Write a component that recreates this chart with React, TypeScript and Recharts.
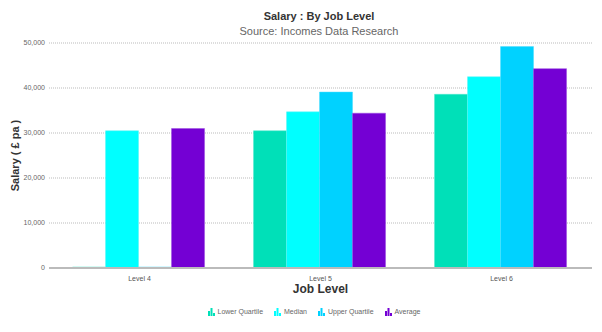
import { Bar, BarChart, CartesianGrid, Legend, XAxis, YAxis } from "recharts";

const levels = ["Level 4", "Level 5", "Level 6"];
const lowerQuartile = [0, 30500, 38600];
const median = [30500, 34700, 42500];
const upperQuartile = [0, 39100, 49200];
const average = [31000, 34400, 44300];
const yTicks = [0, 10000, 20000, 30000, 40000, 50000];

const seriesList = [
  { key: "lower", name: "Lower Quartile", color: "#00e0b8", stroke: "#4de9cc" },
  { key: "median", name: "Median", color: "#00ffff", stroke: "#5cf5f5" },
  { key: "upper", name: "Upper Quartile", color: "#00d2ff", stroke: "#4ddcff" },
  { key: "average", name: "Average", color: "#7400d4", stroke: "#9a4de0" },
];

const data = levels.map((level, i) => ({
  level,
  lower: lowerQuartile[i],
  median: median[i],
  upper: upperQuartile[i],
  average: average[i],
}));

const font = "Arial, 'Liberation Sans', sans-serif";

function BarIcon({ color }: { color: string }) {
  return (
    <svg width={7} height={8} style={{ display: "block" }}>
      <rect x={0} y={3} width={2} height={5} fill={color} />
      <rect x={2.5} y={0} width={2} height={8} fill={color} />
      <rect x={5} y={5} width={2} height={3} fill={color} />
    </svg>
  );
}

function LegendContent() {
  return (
    <div
      style={{
        display: "flex",
        justifyContent: "center",
        gap: 11,
        fontFamily: font,
        fontSize: 7,
        color: "#666",
        paddingLeft: 36,
      }}
    >
      {seriesList.map((s) => (
        <div key={s.key} style={{ display: "flex", alignItems: "flex-end", gap: 3 }}>
          <BarIcon color={s.color} />
          <span style={{ lineHeight: "8px" }}>{s.name}</span>
        </div>
      ))}
    </div>
  );
}

function YLabel(props: any) {
  const { viewBox } = props;
  const cx = viewBox.x + 15;
  const cy = viewBox.y + viewBox.height / 2;
  return (
    <text
      x={cx}
      y={cy}
      transform={`rotate(-90 ${cx} ${cy})`}
      textAnchor="middle"
      dominantBaseline="central"
      fontFamily={font}
      fontSize={11}
      fontWeight="bold"
      fill="#333"
    >
      Salary ( £ pa )
    </text>
  );
}

export default function App() {
  return (
    <div style={{ position: "absolute", left: 0, top: 0, width: 602, height: 332, background: "#fff" }}>
      <div
        style={{
          position: "absolute",
          top: 10,
          left: 0,
          width: 602,
          textAlign: "center",
          fontFamily: font,
          fontSize: 11,
          fontWeight: "bold",
          color: "#333",
          paddingLeft: 36,
          boxSizing: "border-box",
        }}
      >
        Salary : By Job Level
      </div>
      <div
        style={{
          position: "absolute",
          top: 25,
          left: 0,
          width: 602,
          textAlign: "center",
          fontFamily: font,
          fontSize: 11,
          color: "#666",
          paddingLeft: 36,
          boxSizing: "border-box",
        }}
      >
        Source: Incomes Data Research
      </div>
      <BarChart
        width={602}
        height={332}
        data={data}
        margin={{ top: 43, right: 10, left: 0, bottom: 0 }}
        barCategoryGap="13%"
        barGap={0}
      >
        <CartesianGrid vertical={false} stroke="#bbb" strokeDasharray="1 1" />
        <XAxis
          dataKey="level"
          tickLine={false}
          axisLine={{ stroke: "#bbb", strokeWidth: 2 }}
          tick={{ fontSize: 7, fill: "#555", fontFamily: font }}
          tickMargin={2}
          height={32}
          label={{
            value: "Job Level",
            position: "insideBottom",
            offset: 7,
            fontSize: 12,
            fontWeight: "bold",
            fill: "#333",
            fontFamily: font,
          }}
        />
        <YAxis
          width={49}
          domain={[0, 50000]}
          ticks={yTicks}
          tickFormatter={(v: number) => v.toLocaleString("en-GB")}
          tickLine={false}
          axisLine={false}
          tickSize={0}
          tick={{ fontSize: 7, fill: "#666", fontFamily: font }}
          tickMargin={4}
          label={<YLabel />}
        />
        <Legend
          verticalAlign="bottom"
          height={32}
          content={<LegendContent />}
          wrapperStyle={{ top: 308, bottom: "auto" }}
        />
        {seriesList.map((s) => (
          <Bar
            key={s.key}
            dataKey={s.key}
            name={s.name}
            fill={s.color}
            stroke={s.stroke}
            strokeWidth={0.5}
            minPointSize={1}
            isAnimationActive={false}
          />
        ))}
      </BarChart>
    </div>
  );
}
